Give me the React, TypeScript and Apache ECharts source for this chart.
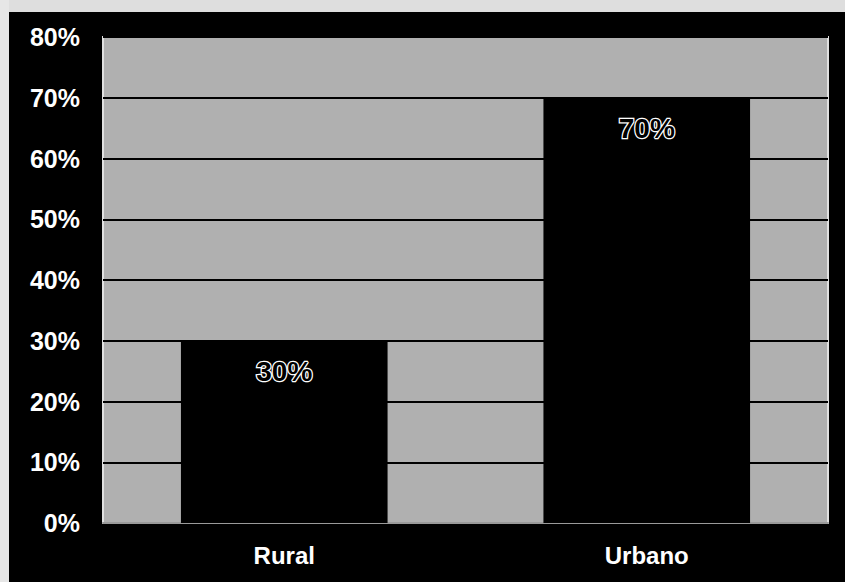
import React, { useEffect, useRef } from "react";
import * as echarts from "echarts";

const categories = ["Rural", "Urbano"];
const shares = [30, 70];
const yTicks = { min: 0, max: 80, interval: 10 };

export default function App() {
  const ref = useRef<HTMLDivElement>(null);

  useEffect(() => {
    document.body.style.margin = "0";
    const chart = echarts.init(ref.current!, undefined, { renderer: "svg" });
    chart.setOption({
      animation: false,
      backgroundColor: "#000",
      graphic: [
        { type: "rect", shape: { x: 0, y: 0, width: 845, height: 12 }, style: { fill: "#dedede" }, z: 10 },
        { type: "rect", shape: { x: 0, y: 0, width: 9, height: 582 }, style: { fill: "#e6e6e6" }, z: 10 },
      ],
      grid: {
        left: 103,
        right: 17,
        top: 37,
        bottom: 59,
        show: true,
        backgroundColor: "#b0b0b0",
        borderColor: "#e0e0e0",
        borderWidth: 2,
      },
      xAxis: {
        type: "category",
        data: categories,
        axisTick: { show: false },
        axisLine: { show: true, lineStyle: { color: "#9a9a9a", width: 2 } },
        axisLabel: {
          color: "#fff",
          fontFamily: "Liberation Sans, Arial, sans-serif",
          fontWeight: "bold",
          fontSize: 24,
          margin: 20,
        },
      },
      yAxis: {
        type: "value",
        min: yTicks.min,
        max: yTicks.max,
        interval: yTicks.interval,
        axisLine: { show: false },
        axisTick: { show: false },
        splitLine: { lineStyle: { color: "#000", width: 2 } },
        axisLabel: {
          color: "#fff",
          fontFamily: "Liberation Sans, Arial, sans-serif",
          fontWeight: "bold",
          fontSize: 25,
          margin: 23,
          formatter: "{value}%",
        },
      },
      series: [
        {
          type: "bar",
          data: shares,
          barCategoryGap: "43%",
          itemStyle: { color: "#000" },
          label: {
            show: true,
            position: "insideTop",
            distance: 17,
            formatter: "{c}%",
            color: "#000",
            textBorderColor: "#fff",
            textBorderWidth: 2.5,
            fontFamily: "Liberation Sans, Arial, sans-serif",
            fontWeight: 900,
            fontSize: 28,
          },
        },
      ],
    });
    return () => chart.dispose();
  }, []);

  return <div ref={ref} style={{ width: 845, height: 582 }} />;
}
